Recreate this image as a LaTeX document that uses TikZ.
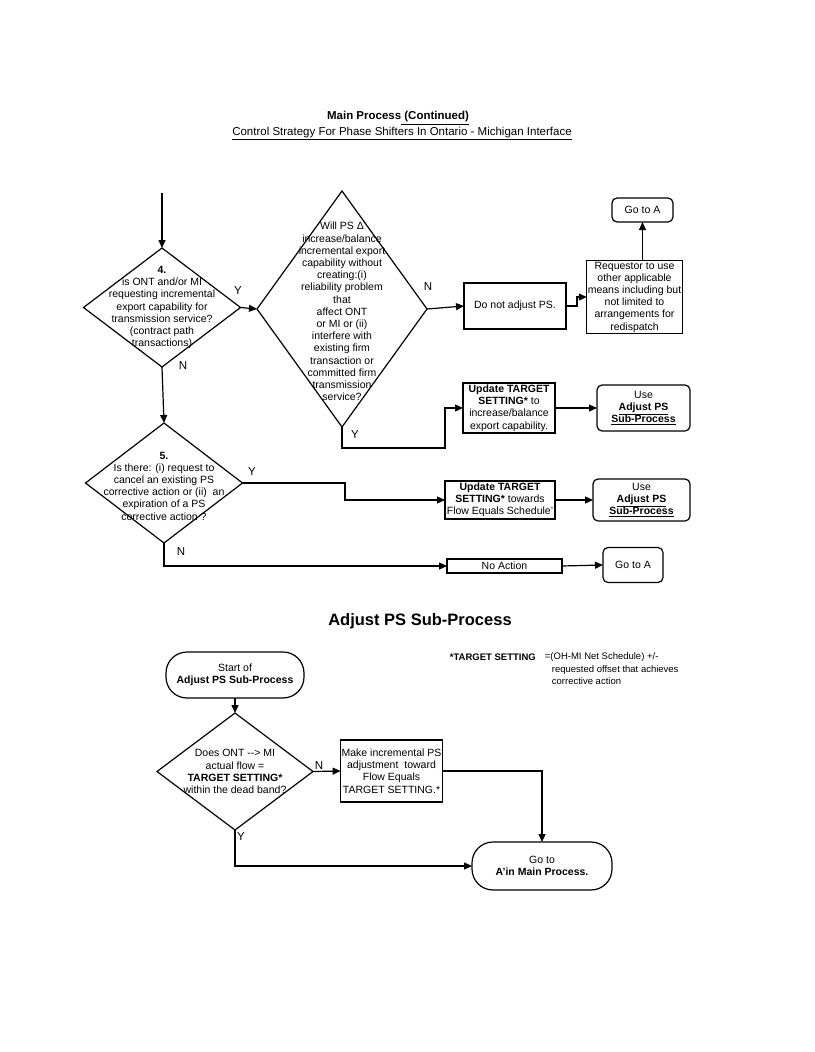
\documentclass[tikz,border=0pt]{standalone}
\usepackage{fontspec}
\setmainfont{Liberation Sans}
\usetikzlibrary{shapes.geometric,arrows.meta}

\begin{document}
\begin{tikzpicture}[x=1pt,y=-1pt,line width=1.2pt,
    every node/.style={font=\fontsize{10.5}{12.2}\selectfont,align=center},
    flow/.style={-{Triangle[length=8pt,width=7pt]}},
    decision/.style={draw,diamond,inner sep=0pt,outer sep=0pt},
    box/.style={draw,rectangle,inner sep=1pt,outer sep=0pt},
    roundbox/.style={box,rounded corners=5pt},
    terminal/.style={box,rounded corners=21pt},
    yn/.style={font=\fontsize{11.5}{12}\selectfont},
    note/.style={font=\fontsize{9.5}{12}\selectfont},
    heading/.style={font=\fontsize{11.5}{13}\selectfont}]
  \fill[white] (0,0) rectangle (814,1052);

  \node[heading] (head) at (398,118) {\textbf{Main Process\underline{ (Continued)}}};
  \node[heading] (subhead) at (402,133.5)
      {\underline{Control Strategy For Phase Shifters In Ontario - Michigan Interface}};

  \coordinate (entry) at (162,193);
  \node[decision,minimum width=157pt,minimum height=119pt] (ask4) at (162,307.5) {};
  \node (ask4txt) at (ask4) {\textbf{4.}\\is ONT and/or MI\\requesting incremental\\
      export capability for\\transmission service?\\(contract path\\transactions)};

  \node[decision,minimum width=170pt,minimum height=236pt] (askps) at (342,309) {};
  \node (askpstxt) at (342,311.5) {Will PS Δ\\increase/balance\\incremental export\\
      capability without\\creating:(i)\\reliability problem\\that\\affect ONT\\or MI or (ii)\\
      interfere with\\existing firm\\transaction or\\committed firm\\transmission\\service?};

  \node[box,minimum width=102pt,minimum height=46pt] (noadj) at (515,306) {Do not adjust PS.};
  \node[box,minimum width=75pt,minimum height=72pt] (req) at (634.5,297)
      {Requestor to use\\other applicable\\means including but\\not limited to\\
       arrangements for\\redispatch};
  \node[roundbox,minimum width=61pt,minimum height=24pt] (gotoa) at (642.5,210) {Go to A};

  \node[box,minimum width=92pt,minimum height=50pt] (upd1) at (509,408)
      {\textbf{Update TARGET}\\\textbf{SETTING*} to\\increase/balance\\export capability.};
  \node[roundbox,minimum width=93pt,minimum height=46pt] (use1) at (643.5,408)
      {Use\\\textbf{\underline{Adjust PS}}\\\textbf{\underline{Sub-Process}}};
  \coordinate (turn1) at (445,448);

  \node[decision,minimum width=157pt,minimum height=120pt] (ask5) at (164,483) {};
  \node (ask5txt) at (164,486) {\textbf{5.}\\Is there: (i) request to\\cancel an existing PS\\
      corrective action or (ii)\ \ an\\expiration of a PS\\corrective action ?};

  \coordinate (turn2) at (345,500);
  \node[box,minimum width=110pt,minimum height=38pt] (upd2) at (500,500)
      {\textbf{Update TARGET}\\\textbf{SETTING*} towards\\Flow Equals Schedule'};
  \node[roundbox,minimum width=97pt,minimum height=42pt] (use2) at (641.5,500)
      {Use\\\textbf{\underline{Adjust PS}}\\\textbf{\underline{Sub-Process}}};

  \node[box,minimum width=115pt,minimum height=14pt,inner sep=0pt] (noact) at (504.5,566) {No Action};
  \node[roundbox,minimum width=60pt,minimum height=35pt] (gotoa2) at (633,565) {Go to A};

  \node (subtitle) at (420,621) {\fontsize{16.5}{18}\selectfont\bfseries Adjust PS Sub-Process};

  \node[terminal,minimum width=138pt,minimum height=46pt] (start) at (235,675)
      {Start of\\\textbf{Adjust PS Sub-Process}};
  \node[note,anchor=west] (notekey) at (446,657) {\textbf{*TARGET SETTING}};
  \node[note,anchor=west] (noteeq) at (541,657) {=(OH-MI Net Schedule) +/-};
  \node[note,anchor=west,align=left] (notebody) at (548,675)
      {requested offset that achieves\\corrective action};

  \node[decision,minimum width=156pt,minimum height=117pt] (ask6) at (235,771.5) {};
  \node (ask6txt) at (ask6) {Does ONT -{}-{}> MI\\actual flow =\\\textbf{TARGET SETTING*}\\
      within the dead band?};
  \node[box,minimum width=93pt,minimum height=62pt] (make) at (391.5,771)
      {Make incremental PS\\adjustment\ \ toward\\Flow Equals\\TARGET SETTING.*};
  \node[terminal,minimum width=140pt,minimum height=48pt] (goend) at (542,866)
      {Go to\\\textbf{A'in Main Process.}};

  \foreach \lbl/\pos/\txt in {y4/{238,291}/Y, n4/{183,366}/N, nps/{428,287}/N,
      yps/{355,435}/Y, y5/{252,472}/Y, n5/{181,552}/N, n6/{319,766}/N, y6/{241,837}/Y}
    \node[yn] (\lbl) at (\pos) {\txt};

  \draw[flow] (entry) -- (ask4.north);
  \draw[flow] (ask4.east) -- (askps.west);
  \draw[flow] (ask4.south) -- (ask5.north);
  \draw[flow] (askps.east) -- (noadj.west);
  \draw[flow] (noadj.east) -- ++(11,0) |- (req.west);
  \draw[flow] (gotoa.south |- req.north) -- (gotoa.south);
  \draw[flow] (askps.south) |- (turn1) |- (upd1.west);
  \draw[flow] (upd1.east) -- (use1.west);
  \draw[flow] (ask5.east) -| (turn2) -- (upd2.west);
  \draw[flow] (upd2.east) -- (use2.west);
  \draw[flow] (ask5.south) |- (noact.west);
  \draw[flow] (noact.east) -- (gotoa2.west);
  \draw[flow] (start.south) -- (ask6.north);
  \draw[flow] (ask6.east) -- (make.west);
  \draw[flow] (make.east) -| (goend.north);
  \draw[flow] (ask6.south) |- (goend.west);
\end{tikzpicture}
\end{document}
